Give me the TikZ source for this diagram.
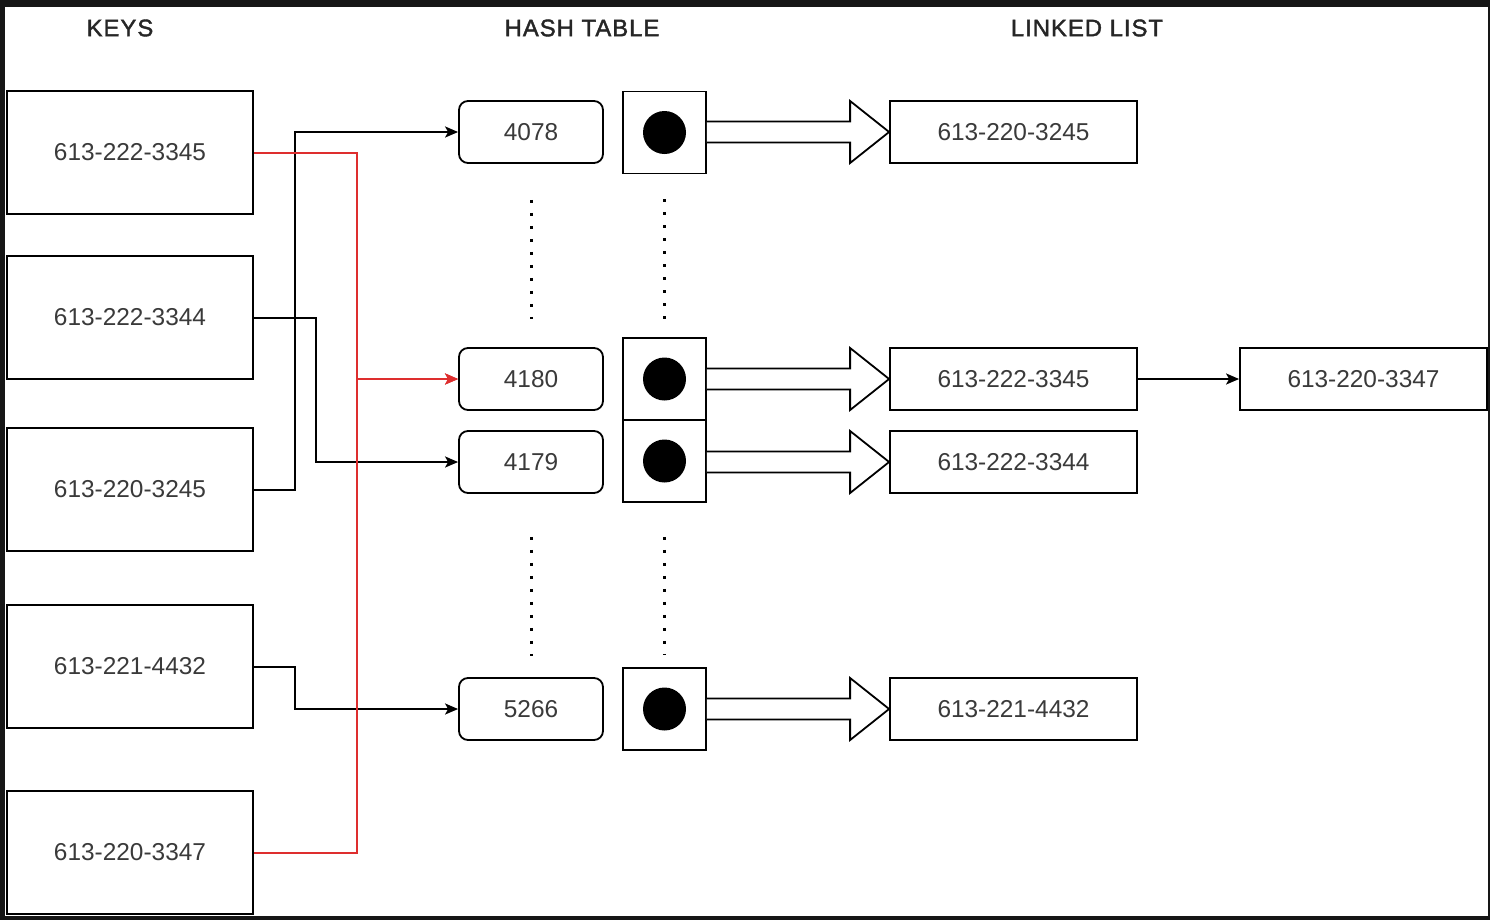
\documentclass[tikz,border=0pt]{standalone}
\usepackage{fontspec}
\setmainfont{Liberation Sans}
\newfontfamily\titlefont[FakeBold=1.6,LetterSpace=4]{Liberation Sans}
\usetikzlibrary{arrows.meta,calc}
\definecolor{frame}{RGB}{22,22,22}
\definecolor{txt}{RGB}{58,58,58}
\definecolor{redl}{RGB}{222,46,46}
\tikzset{
  keybox/.style={draw, line width=1.8bp, minimum width=246bp, minimum height=123bp, inner sep=0, text=txt, font=\fontsize{24.5}{28}\selectfont},
  hashbox/.style={draw, line width=1.8bp, rounded corners=9bp, minimum width=144bp, minimum height=62bp, inner sep=0, text=txt, font=\fontsize{24.5}{28}\selectfont},
  sqbox/.style={draw, line width=1.8bp, minimum width=83bp, minimum height=82bp, inner sep=0},
  llbox/.style={draw, line width=1.8bp, minimum width=247bp, minimum height=62bp, inner sep=0, text=txt, font=\fontsize{24.5}{28}\selectfont},
  title/.style={font=\titlefont\fontsize{24}{28}\selectfont, text=black!85},
  conn/.style={line width=2bp, -{Stealth[length=13bp,width=11bp,inset=3bp]}},
  redconn/.style={conn, draw=redl, color=redl},
  blockarr/.style={draw, line width=1.8bp, fill=white, line join=miter},
  dotline/.style={line width=3bp, dash pattern=on 3bp off 10bp},
  dotc/.style={circle, fill=black, minimum size=43bp, inner sep=0}
}
\begin{document}
\begin{tikzpicture}[x=1bp,y=-1bp]
\fill[frame] (0,0) rectangle (1490,920);
\fill[white] (5,7) rectangle (1488,916);
\useasboundingbox (0,0) rectangle (1490,920);

% titles
\node[title] (tk) at (120,28) {KEYS};
\node[title] (th) at (582,28) {HASH TABLE};
\node[title] (tl) at (1087,28) {LINKED LIST};

% keys
\node[keybox] (k1) at (130,152.5) {613-222-3345};
\node[keybox] (k2) at (130,317.5) {613-222-3344};
\node[keybox] (k3) at (130,489.5) {613-220-3245};
\node[keybox] (k4) at (130,666.5) {613-221-4432};
\node[keybox] (k5) at (130,852.5) {613-220-3347};

% hash table
\node[hashbox] (h1) at (531,132) {4078};
\node[hashbox] (h2) at (531,379) {4180};
\node[hashbox] (h3) at (531,462) {4179};
\node[hashbox] (h4) at (531,709) {5266};

\node[sqbox] (s1) at (664.5,132.5) {};
\node[sqbox] (s2) at (664.5,379) {};
\node[sqbox] (s3) at (664.5,461) {};
\node[sqbox] (s4) at (664.5,709) {};
\foreach \s in {s1,s2,s3,s4} \node[dotc] (\s c) at (\s) {};

% linked list
\node[llbox] (l1) at (1013.5,132) {613-220-3245};
\node[llbox] (l2) at (1013.5,379) {613-222-3345};
\node[llbox] (l3) at (1013.5,462) {613-222-3344};
\node[llbox] (l4) at (1013.5,709) {613-221-4432};
\node[llbox] (l5) at (1363.5,379) {613-220-3347};

% dotted lines
\draw[dotline] ($(h1.south)+(0,36)$) -- ($(h2.north)+(0,-28)$);
\draw[dotline] ($(s1.south)+(0,25)$) -- ($(s2.north)+(0,-18)$);
\draw[dotline] ($(h3.south)+(0,43)$) -- ($(h4.north)+(0,-21)$);
\draw[dotline] ($(s3.south)+(0,34)$) -- ($(s4.north)+(0,-12)$);

% block arrows
\foreach \s/\l in {s1/l1,s2/l2,s3/l3,s4/l4}{
  \draw[blockarr] ($(\s.east |- \l.west)+(0,-10.5)$) -- ($(\l.west)+(-39,-10.5)$) -- ($(\l.west)+(-39,-31)$) -- (\l.west) -- ($(\l.west)+(-39,31)$) -- ($(\l.west)+(-39,10.5)$) -- ($(\s.east |- \l.west)+(0,10.5)$);
}

% connectors
\draw[conn] (k3.east) -- ++(41,0) |- (h1.west);
\draw[conn] (k2.east) -- ++(62,0) |- (h3.west);
\draw[conn] (k4.east) -- ++(41,0) |- (h4.west);
\draw[redconn] (k1.east) -- ++(103,0) |- (h2.west);
\draw[redconn] (k5.east) -- ++(103,0) |- (h2.west);
\draw[conn] (l2.east) -- (l5.west);
\end{tikzpicture}
\end{document}
